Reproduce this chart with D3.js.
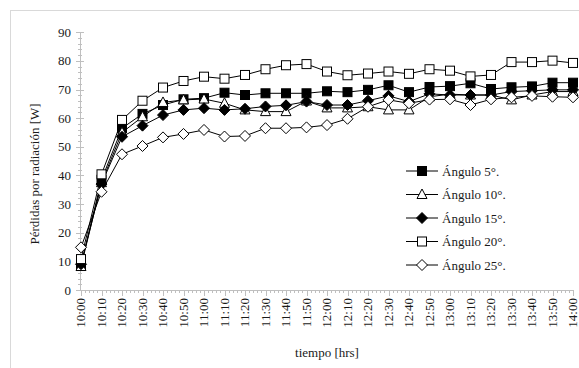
<!DOCTYPE html>
<html><head><meta charset="utf-8">
<script src="https://cdn.jsdelivr.net/npm/d3@7"></script>
<style>body{margin:0;background:#fff}svg{display:block}</style>
</head><body>
<script>
const times = ["10:00","10:10","10:20","10:30","10:40","10:50","11:00","11:10","11:20","11:30","11:40","11:50","12:00","12:10","12:20","12:30","12:40","12:50","13:00","13:10","13:20","13:30","13:40","13:50","14:00"];
const angulo5  = [8.7,38.5,56.5,61.5,64.6,66.6,67.0,68.9,68.1,68.7,68.7,68.7,69.4,69.1,69.9,71.5,69.1,70.9,71.2,72.2,70.2,70.8,71.1,72.4,72.4];
const angulo10 = [8.2,37.5,55.0,60.5,65.5,66.4,66.7,65.2,62.9,62.3,62.3,66.0,63.6,63.6,64.0,62.9,62.9,67.5,68.4,68.1,68.1,66.4,68.1,69.3,69.3];
const angulo15 = [9.0,37.0,53.5,57.4,61.1,62.9,63.5,62.9,63.3,64.1,64.5,65.8,64.6,64.6,66.1,67.8,65.8,68.5,68.1,68.1,68.1,69.3,69.6,69.9,69.9];
const angulo20 = [10.8,40.4,59.4,66.1,70.7,73.0,74.5,73.8,75.1,77.1,78.5,78.9,76.3,75.0,75.6,76.3,75.5,77.1,76.6,74.6,75.1,79.6,79.6,80.1,79.3];
const angulo25 = [14.9,34.3,47.4,50.3,53.3,54.5,55.9,53.6,53.8,56.5,56.5,56.8,57.6,59.8,64.0,66.4,65.2,66.5,66.6,64.6,66.6,67.3,67.8,67.5,67.3];
const seriesNames = ["Ángulo 5°.","Ángulo 10°.","Ángulo 15°.","Ángulo 20°.","Ángulo 25°."];
const yTicks = [0,10,20,30,40,50,60,70,80,90];

const W = 579, H = 368;
const svg = d3.select("body").append("svg").attr("width", W).attr("height", H);
const FONT = '"Liberation Serif", "Times New Roman", serif';
const axisCol = "#bfbfbf";
const txtCol = "#1a1a1a";
function txt(sel){ return sel.style("font-family", FONT).attr("font-size",13).attr("fill",txtCol); }

svg.append("rect").attr("x",10.5).attr("y",10.5).attr("width",580).attr("height",370)
  .attr("fill","none").attr("stroke","#d9d9d9");

const x = d3.scalePoint().domain(times).range([81, 573]);
const y = d3.scaleLinear().domain([0, 90]).range([290, 32.3]);

// y axis
const gy = svg.append("g");
d3.range(0, 91, 2).forEach(v => {
  const major = v % 10 === 0;
  gy.append("line").attr("x1", major ? 76 : 78).attr("x2", major ? 84 : 82)
    .attr("y1", Math.round(y(v))+0.5).attr("y2", Math.round(y(v))+0.5).attr("stroke", axisCol);
});
gy.append("line").attr("x1",80.5).attr("x2",80.5).attr("y1",y(90)).attr("y2",y(0)).attr("stroke",axisCol);
yTicks.forEach(v => {
  txt(gy.append("text").attr("x", 71).attr("y", y(v)).attr("dy","0.35em").attr("text-anchor","end")).text(v);
});

// x axis
const gx = svg.append("g");
gx.append("line").attr("x1",x(times[0])).attr("x2",x(times[times.length-1])).attr("y1",290.5).attr("y2",290.5).attr("stroke",axisCol);
const step = x.step();
times.forEach((t,i) => {
  const xx = Math.round(x(t))+0.5;
  gx.append("line").attr("x1",xx).attr("x2",xx).attr("y1",290).attr("y2",296).attr("stroke",axisCol);
  if (i < times.length-1) {
    for (let k=1;k<5;k++){
      const xm = Math.round(x(t)+step*k/5)+0.5;
      gx.append("line").attr("x1",xm).attr("x2",xm).attr("y1",290).attr("y2",293).attr("stroke",axisCol);
    }
  }
  txt(gx.append("text").attr("transform",`translate(${x(t)},298) rotate(-90)`)
    .attr("text-anchor","end").attr("dy","0.33em")).text(t);
});

// axis titles
txt(svg.append("text").attr("transform","translate(34,174) rotate(-90)").attr("text-anchor","middle")
  .attr("dy","0.35em")).text("Pérdidas por radiación  [W]");
txt(svg.append("text").attr("x",327).attr("y",352).attr("text-anchor","middle").attr("dy","0.35em")).text("tiempo [hrs]");

// markers
function marker(g, type, cx, cy) {
  if (type === "sqFill" || type === "sqOpen") {
    g.append("rect").attr("x",cx-4.5).attr("y",cy-4.5).attr("width",9).attr("height",9)
      .attr("fill", type==="sqFill" ? "#000" : "#fff").attr("stroke","#000").attr("stroke-width",1);
  } else if (type === "triOpen") {
    g.append("path").attr("d",`M${cx},${cy-5.5}L${cx+5},${cy+4}L${cx-5},${cy+4}Z`)
      .attr("fill","#fff").attr("stroke","#000");
  } else if (type === "diaFill" || type === "diaOpen") {
    g.append("path").attr("d",`M${cx},${cy-5.5}L${cx+5.5},${cy}L${cx},${cy+5.5}L${cx-5.5},${cy}Z`)
      .attr("fill", type==="diaFill" ? "#000" : "#fff").attr("stroke","#000");
  }
}
const series = [
  {name: seriesNames[0], vals: angulo5, m: "sqFill"},
  {name: seriesNames[1], vals: angulo10, m: "triOpen"},
  {name: seriesNames[2], vals: angulo15, m: "diaFill"},
  {name: seriesNames[3], vals: angulo20, m: "sqOpen"},
  {name: seriesNames[4], vals: angulo25, m: "diaOpen"}
];
const line = d3.line().x((d,i)=>x(times[i])).y(d=>y(d));
series.forEach(s => {
  const g = svg.append("g");
  g.append("path").attr("d", line(s.vals)).attr("fill","none").attr("stroke","#000").attr("stroke-width",1);
  s.vals.forEach((v,i)=>marker(g, s.m, x(times[i]), y(v)));
});

// legend
const lg = svg.append("g");
series.forEach((s,i) => {
  const ly = 171 + i*23.5;
  lg.append("line").attr("x1",406).attr("x2",438).attr("y1",ly).attr("y2",ly).attr("stroke","#000");
  marker(lg, s.m, 422, ly);
  txt(lg.append("text").attr("x",442).attr("y",ly).attr("dy","0.35em")).text(s.name);
});
</script>
</body></html>
